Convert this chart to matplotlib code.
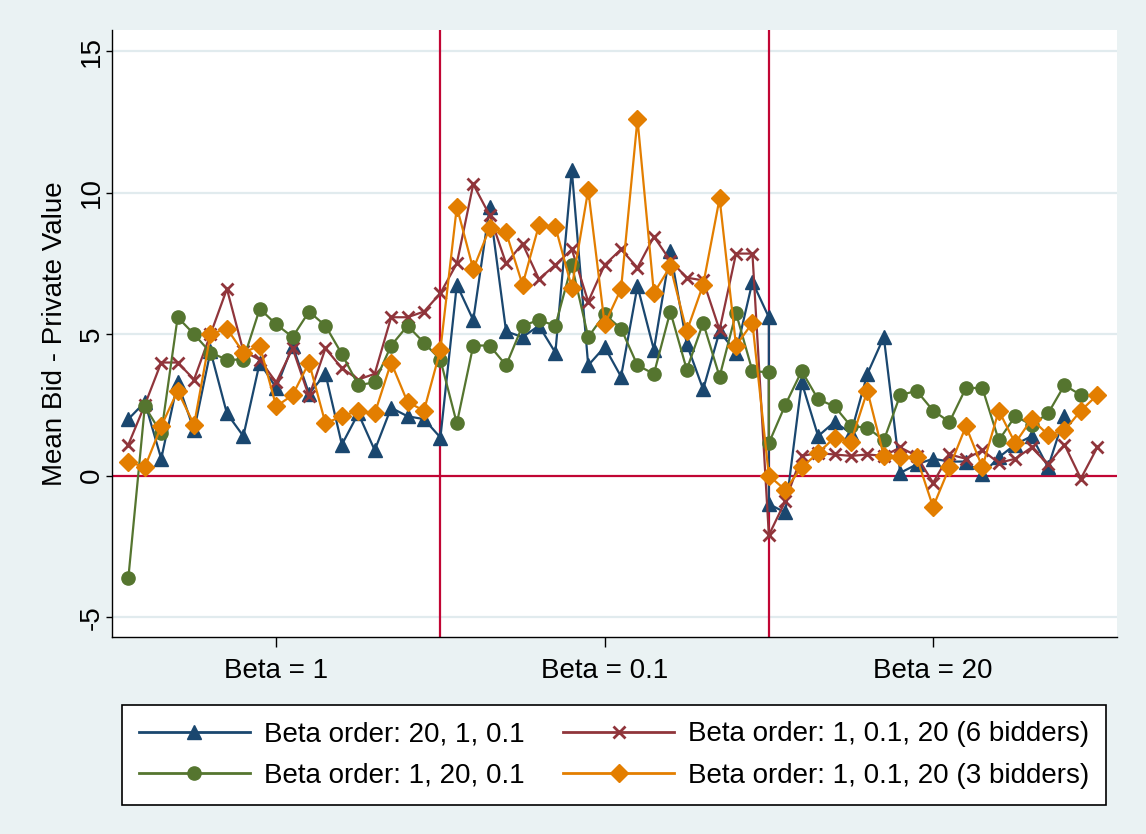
import matplotlib
matplotlib.use('Agg')
import matplotlib.pyplot as plt

# period index for each series (blue and green repeat period 40 at the block change)
x_blue = list(range(1, 41)) + list(range(40, 59))
x_green = list(range(1, 41)) + list(range(40, 60))
x_red = list(range(1, 61))
x_orange = list(range(1, 61))

# Beta order: 20, 1, 0.1
blue = [2.0, 2.6, 0.6, 3.3, 1.6, 4.4, 2.2, 1.4, 4.0, 3.1,
        4.6, 2.9, 3.6, 1.1, 2.2, 0.9, 2.4, 2.1, 2.0, 1.35,
        6.75, 5.5, 9.5, 5.1, 4.9, 5.3, 4.35, 10.8, 3.9, 4.55,
        3.5, 6.7, 4.45, 7.95, 4.65, 3.05, 5.1, 4.35, 6.85, 5.6,
        -1.0, -1.3, 3.3, 1.4, 1.9, 1.5, 3.6, 4.9, 0.1, 0.4,
        0.6, 0.5, 0.5, 0.05, 0.65, 1.1, 1.4, 0.3, 2.1]

# Beta order: 1, 20, 0.1
green = [-3.6, 2.45, 1.5, 5.6, 5.0, 4.35, 4.1, 4.1, 5.9, 5.35,
         4.9, 5.8, 5.3, 4.3, 3.2, 3.3, 4.6, 5.3, 4.7, 4.1,
         1.85, 4.6, 4.6, 3.9, 5.3, 5.5, 5.3, 7.45, 4.9, 5.7,
         5.2, 3.9, 3.6, 5.8, 3.75, 5.4, 3.5, 5.75, 3.7, 3.65,
         1.15, 2.5, 3.7, 2.7, 2.45, 1.75, 1.7, 1.25, 2.85, 3.0,
         2.3, 1.9, 3.1, 3.1, 1.25, 2.1, 1.8, 2.2, 3.2, 2.85]

# Beta order: 1, 0.1, 20 (6 bidders)
red = [1.1, 2.5, 4.0, 4.0, 3.4, 5.0, 6.6, 4.4, 4.1, 3.3,
       4.5, 2.8, 4.5, 3.8, 3.4, 3.6, 5.6, 5.6, 5.8, 6.45,
       7.5, 10.3, 9.2, 7.5, 8.2, 6.95, 7.45, 8.0, 6.15, 7.45,
       8.0, 7.35, 8.45, 7.6, 7.0, 6.9, 5.15, 7.85, 7.85, -2.1,
       -0.9, 0.7, 0.8, 0.75, 0.7, 0.75, 0.7, 1.0, 0.7, -0.25,
       0.75, 0.6, 0.9, 0.45, 0.6, 1.0, 0.4, 1.1, -0.1, 1.0]

# Beta order: 1, 0.1, 20 (3 bidders)
orange = [0.5, 0.3, 1.75, 3.0, 1.8, 5.0, 5.2, 4.35, 4.6, 2.45,
          2.85, 4.0, 1.85, 2.1, 2.3, 2.2, 4.0, 2.6, 2.3, 4.45,
          9.5, 7.3, 8.75, 8.6, 6.75, 8.85, 8.8, 6.65, 10.1, 5.35,
          6.6, 12.6, 6.45, 7.4, 5.1, 6.75, 9.8, 4.6, 5.4, 0.0,
          -0.5, 0.3, 0.8, 1.35, 1.2, 3.0, 0.7, 0.65, 0.65, -1.1,
          0.3, 1.75, 0.3, 2.3, 1.15, 2.0, 1.45, 1.6, 2.3, 2.85]

tick_pos = [10, 30, 50]
tick_labels = ['Beta = 1', 'Beta = 0.1', 'Beta = 20']
block_edges = [20, 40]

plt.rcParams['font.family'] = ['Liberation Sans', 'DejaVu Sans']

fig = plt.figure(figsize=(11.46, 8.34), dpi=100, facecolor='#eaf2f3')
ax = fig.add_axes([0.0977, 0.2362, 0.877, 0.7278])
ax.set_facecolor('white')

for v in [-5, 5, 10, 15]:
    ax.axhline(v, color='#e1ebee', lw=1.6, zorder=0)
ax.axhline(0, color='#c10534', lw=1.6, zorder=1)
for e in block_edges:
    ax.axvline(e, color='#c10534', lw=1.6, zorder=1)

ax.plot(x_blue, blue, color='#1a476f', marker='^', ms=10, lw=1.6,
        label='Beta order: 20, 1, 0.1', zorder=2)
ax.plot(x_red, red, color='#90353b', marker='x', ms=8, mew=2, lw=1.6,
        label='Beta order: 1, 0.1, 20 (6 bidders)', zorder=3)
ax.plot(x_green, green, color='#55752f', marker='o', ms=9.5, lw=1.6,
        label='Beta order: 1, 20, 0.1', zorder=4)
ax.plot(x_orange, orange, color='#e37e00', marker='D', ms=9.5, lw=1.6,
        label='Beta order: 1, 0.1, 20 (3 bidders)', zorder=5)

ax.set_xlim(0, 61.2)
ax.set_ylim(-5.7, 15.75)
ax.set_xticks(tick_pos)
ax.set_xticklabels(tick_labels, fontsize=20)
ax.set_yticks([-5, 0, 5, 10, 15])
ax.set_yticklabels(['-5', '0', '5', '10', '15'], fontsize=20, rotation=90, va='center')
ax.tick_params(axis='x', direction='out', length=7, width=1, color='black', pad=8)
ax.tick_params(axis='y', direction='out', length=4, width=1, color='black', pad=1)
ax.set_ylabel('Mean Bid - Private Value', fontsize=20, labelpad=8)

for s in ['top', 'right']:
    ax.spines[s].set_visible(False)
for s in ['left', 'bottom']:
    ax.spines[s].set_color('black')
    ax.spines[s].set_linewidth(1)

h, l = ax.get_legend_handles_labels()
order = [0, 2, 1, 3]
leg = fig.legend([h[i] for i in order], [l[i] for i in order], ncol=2,
                 loc='center', bbox_to_anchor=(0.536, 0.0947),
                 fontsize=20, frameon=True, fancybox=False,
                 edgecolor='black', framealpha=1, handlelength=4,
                 handletextpad=0.5, borderpad=0.6, labelspacing=0.55,
                 columnspacing=1.4, borderaxespad=0)
leg.get_frame().set_linewidth(1.2)
for line in leg.get_lines():
    line.set_linewidth(2)

fig.savefig('out.png', dpi=100, facecolor=fig.get_facecolor())
